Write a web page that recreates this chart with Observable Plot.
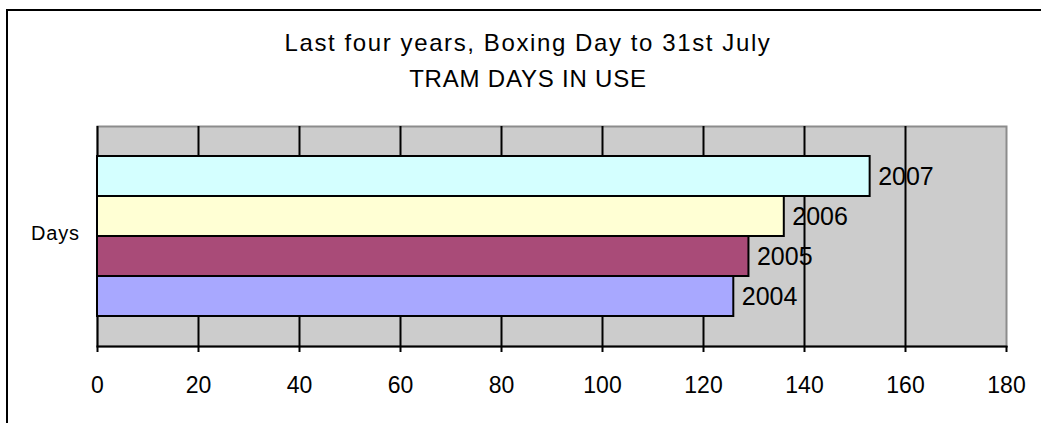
<!DOCTYPE html>
<html>
<head>
<meta charset="utf-8">
<script src="https://cdn.jsdelivr.net/npm/d3@7"></script>
<script src="https://cdn.jsdelivr.net/npm/@observablehq/plot@0.6"></script>
<style>
  html, body { margin: 0; padding: 0; background: #ffffff; overflow: hidden; }
  #wrap { position: relative; width: 1041px; height: 423px; overflow: hidden; font-family: "Liberation Sans", Arial, sans-serif; color: #000; }
  #border { position: absolute; left: 6px; top: 9px; width: 1200px; height: 600px; border-left: 2px solid #000; border-top: 2px solid #000; }
  .t { position: absolute; left: 0; width: 1056px; text-align: center; font-size: 24px; line-height: 36px; white-space: nowrap; }
  #t1 { top: 25px; letter-spacing: 1.6px; }
  #t2 { top: 61px; letter-spacing: 0.8px; }
  #ylab { position: absolute; left: 31px; top: 223px; font-size: 20px; line-height: 20px; letter-spacing: 0.8px; }
  #chart { position: absolute; left: 0; top: 0; }
</style>
</head>
<body>
<div id="wrap">
  <div id="border"></div>
  <div id="chart"></div>
  <div class="t" id="t1">Last four years, Boxing Day to 31st July</div>
  <div class="t" id="t2">TRAM DAYS IN USE</div>
  <div id="ylab">Days</div>
</div>
<script>
const years = ["2007", "2006", "2005", "2004"];
const days = [153, 136, 129, 126];
const barColors = ["#D4FFFF", "#FFFFD4", "#A94B78", "#A8A8FF"];
const xTicks = [0, 20, 40, 60, 80, 100, 120, 140, 160, 180];

const data = years.map((y, i) => ({year: y, days: days[i]}));

const chart = Plot.plot({
  width: 1041,
  height: 423,
  marginLeft: 97,
  marginRight: 35,
  marginTop: 126,
  marginBottom: 77,
  style: {fontFamily: "'Liberation Sans', Arial, sans-serif", background: "transparent", color: "black", fontSize: "23px"},
  x: {domain: [0, 180], axis: null},
  y: {domain: years, range: [156, 316], padding: 0, axis: null},
  color: {domain: years, range: barColors},
  marks: [
    Plot.frame({fill: "#cccccc", stroke: "#8c8c8c", strokeWidth: 2}),
    Plot.ruleX(xTicks.slice(1, -1), {stroke: "black", strokeWidth: 2}),
    Plot.ruleX([0], {stroke: "black", strokeWidth: 2}),
    Plot.frame({anchor: "bottom", stroke: "black", strokeWidth: 2}),
    Plot.barX(data, {x: "days", y: "year", fill: "year", stroke: "black", strokeWidth: 2}),
    Plot.text(data, {x: "days", y: "year", text: "year", dx: 8, textAnchor: "start", fontSize: 25, fill: "black"}),
    Plot.axisX({ticks: xTicks, tickSize: 6, tickPadding: 24, fontSize: 23, strokeWidth: 2, stroke: "black", fill: "black", label: null})
  ]
});
document.getElementById("chart").appendChild(chart);
</script>
</body>
</html>
